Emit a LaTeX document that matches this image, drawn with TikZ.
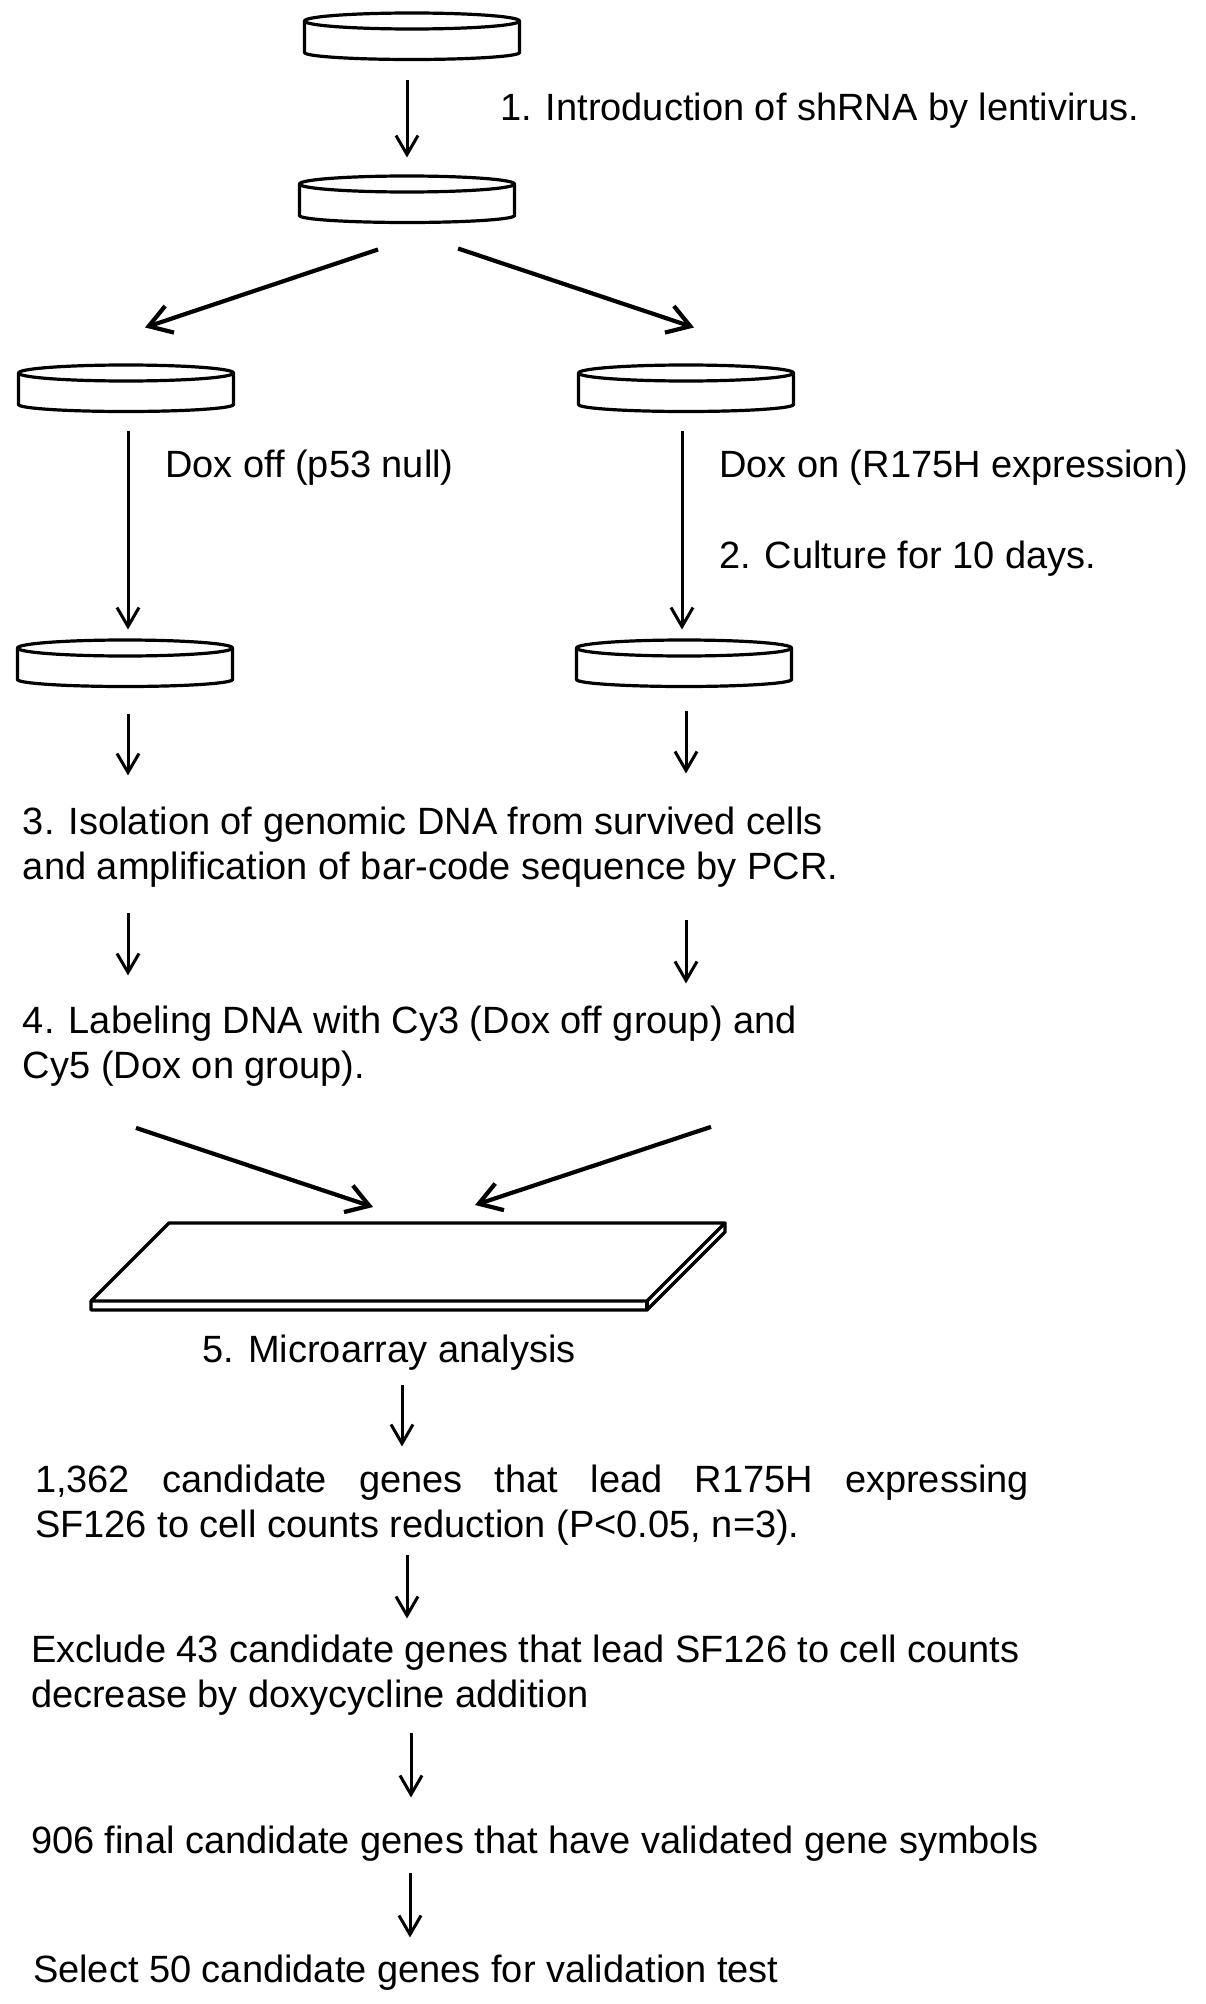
\documentclass[tikz,border=0pt]{standalone}
\usepackage{fontspec}
\setmainfont{Liberation Sans}
\usetikzlibrary{arrows.meta}
\tikzset{
Boite/.style={
 rectangle,
 minimum width=215pt,
 minimum height=47pt,
 inner sep=0pt,
 outer sep=0pt
 },
Trait/.style={
 draw=black,
 line width=3.2pt,
 line join=round
 },
Fleche/.style={
 draw=black,
 line width=3pt,
 -{Straight Barb[length=19pt,width=22pt]}
 },
GrosseFleche/.style={
 draw=black,
 line width=4.2pt,
 -{Straight Barb[length=22pt,width=28pt]}
 },
Texte/.style={
 font=\fontsize{38}{45}\selectfont,
 inner sep=0pt,
 outer sep=0pt,
 anchor=base west,
 align=left
 },
Lame/.style={
 draw=black,
 line width=3.4pt,
 line join=round
 }
}
\begin{document}
\begin{tikzpicture}[x=1pt,y=-1pt]
\useasboundingbox (0,0) rectangle (1205,2004);
% boites
\node[Boite] (b1) at (412,36) {};
\node[Boite] (b2) at (407,199) {};
\node[Boite] (b3) at (126,388) {};
\node[Boite] (b4) at (686,388) {};
\node[Boite] (b5) at (125,663) {};
\node[Boite] (b6) at (684,663) {};
\foreach \b in {b1,b2,b3,b4,b5,b6}{
 \draw[Trait] ([yshift=-8.5pt]\b.north) ellipse [x radius=107.5pt, y radius=8pt];
 \draw[Trait] ([yshift=-8.5pt]\b.north west) -- ([yshift=7pt]\b.south west)
  arc [start angle=180, end angle=360, x radius=107.5pt, y radius=7pt]
  -- ([yshift=-8.5pt]\b.north east);
}
% textes
\node[Texte] (t1) at (500,121) {1. Introduction of shRNA by lentivirus.};
\node[Texte] (toff) at (165,477) {Dox off (p53 null)};
\node[Texte] (ton) at (719,477) {Dox on (R175H expression)};
\node[Texte] (tcul) at (719,568) {2. Culture for 10 days.};
\node[Texte] (t3) at (23,879) {3. Isolation of genomic DNA from survived cells\\and amplification of bar-code sequence by PCR.};
\node[Texte] (t4) at (23,1078) {4. Labeling DNA with Cy3 (Dox off group) and\\Cy5 (Dox on group).};
\node[Texte,anchor=base] (t5) at (389,1362) {5. Microarray analysis};
\node[Texte] (t6) at (35,1537) {\makebox[994pt][s]{1,362 candidate genes that lead R175H expressing}\\SF126 to cell counts reduction (P<0.05, n=3).};
\node[Texte] (t7) at (31,1707) {Exclude 43 candidate genes that lead SF126 to cell counts\\decrease by doxycycline addition};
\node[Texte] (t8) at (31,1853) {906 final candidate genes that have validated gene symbols};
\node[Texte] (t9) at (33,1982) {Select 50 candidate genes for validation test};
% lame
\coordinate (lame) at (169,1223);
\draw[Lame] (lame) -- ++(556,0) -- ++(-78,78) -- ++(-556,0) -- cycle;
\draw[Lame] (lame) ++(-78,78) -- ++(0,9) -- ++(556,0) -- ++(78,-78) -- ++(0,-9);
\draw[Lame] (lame) ++(478,78) -- ++(0,9);
% fleches
\draw[Fleche] ([xshift=-5pt,yshift=-21pt]b1.south) -- ([yshift=18pt]b2.north);
\draw[GrosseFleche] ([xshift=-29pt,yshift=-27pt]b2.south) -- ([xshift=19pt,yshift=37pt]b3.north);
\draw[GrosseFleche] ([xshift=51pt,yshift=-26pt]b2.south) -- ([xshift=8pt,yshift=37pt]b4.north);
\draw[Fleche] ([xshift=2pt,yshift=-19pt]b3.south) -- ([xshift=3pt,yshift=10pt]b5.north);
\draw[Fleche] ([xshift=-4pt,yshift=-19pt]b4.south) -- ([xshift=-2pt,yshift=10pt]b6.north);
\draw[Fleche] ([xshift=3pt,yshift=-27pt]b5.south) -- ([xshift=3pt,yshift=31pt]t3.north -| b5.south);
\draw[Fleche] ([xshift=2pt,yshift=-24pt]b6.south) -- ([xshift=2pt,yshift=33pt]t3.north -| b6.south);
\draw[Fleche] ([xshift=3pt,yshift=-26pt]t3.south -| b5.south) -- ([xshift=3pt,yshift=30pt]t4.north -| b5.south);
\draw[Fleche] ([xshift=2pt,yshift=-33pt]t3.south -| b6.south) -- ([xshift=2pt,yshift=22pt]t4.north -| b6.south);
\draw[GrosseFleche] ([xshift=11pt,yshift=-42pt]t4.south -| b5.south) -- ([xshift=204pt,yshift=16pt]lame);
\draw[GrosseFleche] ([xshift=27pt,yshift=-41pt]t4.south -| b6.south) -- ([xshift=306pt,yshift=18pt]lame);
\draw[Fleche] ([xshift=13pt,yshift=-23pt]t5.base) -- ([xshift=13pt,yshift=18pt]t6.north -| t5.base);
\draw[Fleche] ([xshift=18pt,yshift=-10pt]t6.south -| t5.base) -- ([xshift=18pt,yshift=16pt]t7.north -| t5.base);
\draw[Fleche] ([xshift=22pt,yshift=-18pt]t7.south -| t5.base) -- ([xshift=22pt,yshift=28pt]t8.north -| t5.base);
\draw[Fleche] ([xshift=21pt,yshift=-12pt]t8.south -| t5.base) -- ([xshift=21pt,yshift=17pt]t9.north -| t5.base);
\end{tikzpicture}
\end{document}
